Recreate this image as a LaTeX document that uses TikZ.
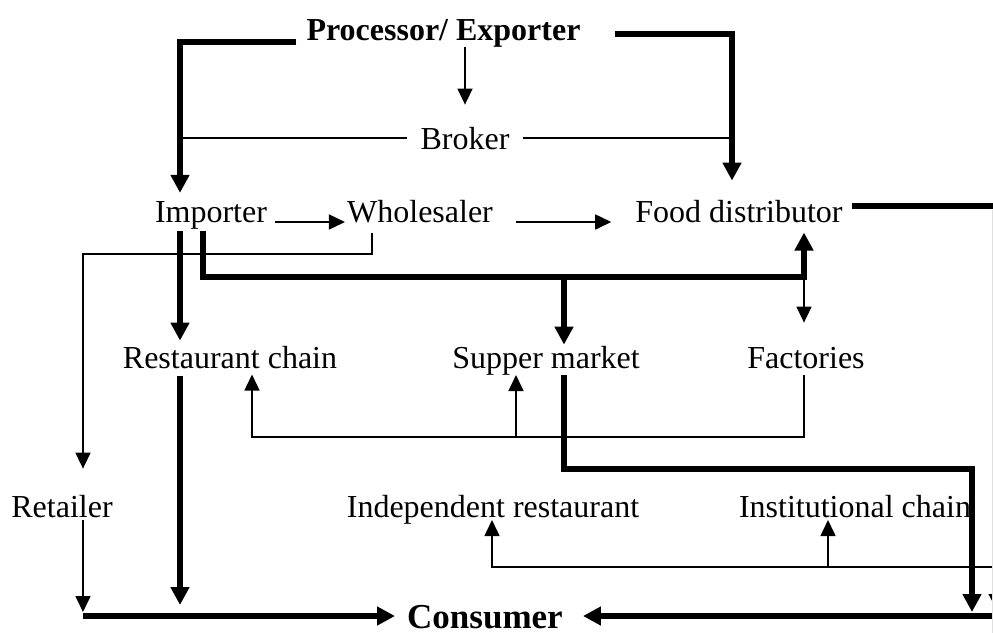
\documentclass[tikz,border=0pt]{standalone}
\usepackage{fontspec}
\setmainfont{Liberation Serif}
\usetikzlibrary{arrows.meta}

\begin{document}
\begin{tikzpicture}[x=1pt, y=-1pt,
  every node/.style={inner sep=0pt, anchor=base, font=\fontsize{32}{38}\selectfont},
  heavyline/.style={line width=6pt},
  lightline/.style={line width=1.6pt},
  heavyflow/.style={heavyline, -{Triangle[length=18pt,width=18pt]}},
  lightflow/.style={lightline, -{Triangle[length=16pt,width=15pt]}}]
\useasboundingbox (0,0) rectangle (993,633);
\path (443.5,40) node[font=\fontsize{32}{38}\selectfont\bfseries] (proc) {Processor/ Exporter};
\path (465,149) node (brk) {Broker};
\path (211,222) node (imp) {Importer};
\path (420,222) node (whl) {Wholesaler};
\path (739,222) node (fdist) {Food distributor};
\path (230,368) node (rest) {Restaurant chain};
\path (546,368) node (smkt) {Supper market};
\path (806,368) node (fact) {Factories};
\path (62,517) node (ret) {Retailer};
\path (493,517) node (indr) {Independent restaurant};
\path (855,517) node (inst) {Institutional chain};
\path (485,628) node[font=\fontsize{35}{41}\selectfont\bfseries] (cons) {Consumer};

\coordinate (lc) at (180,42);
\coordinate (rc) at (732,34);
\coordinate (mc) at (203,277);
\coordinate (fc) at (804,277);
\coordinate (sm) at (564,277);
\coordinate (wc) at (372,254);
\coordinate (rtc) at (83,254);
\coordinate (cl) at (83,616);
\coordinate (cr) at (1010,616);
\coordinate (rr) at (998,206);
\coordinate (sd) at (564,469);
\coordinate (se) at (972,469);
\coordinate (fb) at (804,437);
\coordinate (rb) at (252,437);
\coordinate (sb) at (516,437);
\coordinate (ib) at (492,567);
\coordinate (ie) at (1010,567);
\coordinate (jb) at (828,567);

\draw[heavyflow, shorten <=10pt, shorten >=8pt] (proc.west |- lc) -- (lc) -- (lc |- imp.north);
\draw[heavyflow, shorten <=34pt, shorten >=19pt] (proc.east |- rc) -- (rc) -- (rc |- fdist.north);
\draw[lightflow, shorten >=22pt] (proc.south -| brk.center) -- (brk.north);
\draw[lightline, shorten >=13pt] (lc |- brk.west) -- (brk.west);
\draw[lightline, shorten <=13pt] (brk.east) -- (rc |- brk.east);

\draw[lightflow, shorten <=8pt, shorten >=2pt] (imp.base east) -- (whl.base west);
\draw[lightflow, shorten <=23pt, shorten >=24pt] (whl.base east) -- (fdist.base west);
\draw[heavyflow, shorten <=9pt, shorten >=4pt] (fdist.east |- rr) -- (rr) -- (rr |- cl);

\draw[heavyflow, shorten <=2pt, shorten >=5pt] (lc |- imp.south) -- (lc |- rest.north);
\draw[heavyflow, shorten <=2pt, shorten >=10pt] (mc |- imp.south) -- (mc) -- (fc) -- (fc |- fdist.south);
\draw[heavyflow, shorten >=1pt] (sm) -- (sm |- smkt.north);
\draw[lightflow, shorten >=24pt] (fc) -- (fc |- fact.north);
\draw[lightflow, shorten <=10pt, shorten >=26pt] (wc |- whl.south) -- (wc) -- (rtc) -- (rtc |- ret.north);

\draw[lightflow, shorten >=6pt, shorten <=6pt] (fb |- fact.south) -- (fb) -- (rb) -- (rb |- rest.south);
\draw[lightflow] (sb) -- (sb |- smkt.south);

\draw[lightflow, shorten <=2pt, shorten >=4pt] (rtc |- ret.south) -- (cl);
\draw[heavyflow, shorten <=7pt, shorten >=11pt] (lc |- rest.south) -- (lc |- cl);
\draw[heavyflow, shorten >=4pt] (sd |- smkt.south) -- (sd) -- (se) -- (se |- cl);

\draw[lightflow, shorten >=3pt] (ie) -- (ib) -- (ib |- indr.base);
\draw[lightflow, shorten >=3pt] (jb) -- (jb |- inst.base);

\draw[heavyflow, shorten >=12pt] (cl) -- (cons.west |- cl);
\draw[heavyflow, shorten >=20pt] (cr) -- (cons.east |- cl);
\draw[gray!25, line width=1pt] (992.5,210) -- (992.5,633);
\end{tikzpicture}
\end{document}
